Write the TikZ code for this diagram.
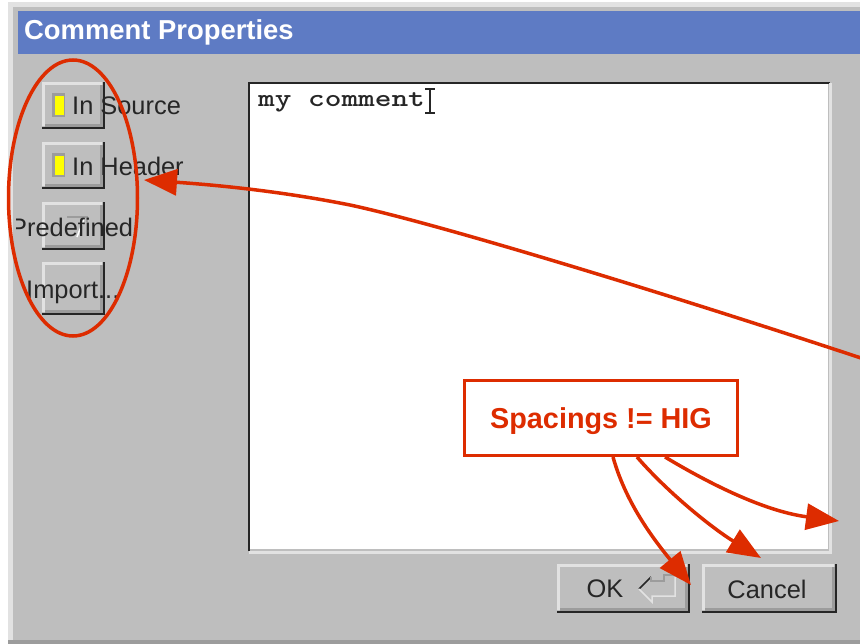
\documentclass[tikz,border=0pt]{standalone}
\usepackage{fontspec}
\setmainfont{Liberation Sans}
\usetikzlibrary{arrows.meta,calc,shapes.geometric}
\definecolor{wingray}{HTML}{BEBEBE}
\definecolor{titleblue}{HTML}{5E7BC4}
\definecolor{markred}{HTML}{DD2C00}
\definecolor{hilite}{HTML}{E2E2E2}
\definecolor{lowlite}{HTML}{9C9C9C}
\definecolor{inkdark}{HTML}{262626}
\definecolor{lampyellow}{HTML}{FFFF00}
\tikzset{
  x=1pt,y=-1pt,
  uilabel/.style={inner sep=0pt,text=inkdark,font=\fontsize{25.4}{25.4}\selectfont},
  redline/.style={draw=markred,line width=3.5pt},
  redarrow/.style={redline,-{Triangle[length=33pt,width=26pt,fill=markred]}},
}
\newcommand{\uibutton}[4]{%
  \fill[wingray] (#1,#2) rectangle (#3,#4);
  \fill[lowlite] (#1+3,#4-4) rectangle (#3-1,#4-1);
  \fill[lowlite] (#3-4,#2+3) rectangle (#3-1,#4-1);
  \fill[hilite] (#1,#2) rectangle (#3-2,#2+3);
  \fill[hilite] (#1,#2) rectangle (#1+3,#4-2);
  \draw[inkdark,line width=2pt] (#1,#4) -- (#3,#4) -- (#3,#2);
}
\newcommand{\uilamp}[2]{%
  \fill[lowlite] (#1,#2) rectangle (#1+13,#2+24);
  \fill[lampyellow] (#1+3,#2+3) rectangle (#1+12,#2+22);
}
\begin{document}
\begin{tikzpicture}
\useasboundingbox (0,0) rectangle (860,644);
\fill[white] (0,0) rectangle (860,644);
% window
\fill[hilite] (8,2) rectangle (860,644);
\fill[wingray] (13,7) rectangle (860,640);
\fill[lowlite] (8,640) rectangle (860,644);
\fill[titleblue] (18,11) rectangle (860,54);
\node[anchor=west,inner sep=0pt,text=white,font=\fontsize{27.4}{27.4}\selectfont\bfseries] (title) at (24,32.5) {Comment Properties};
% text area
\fill[white] (250,84) rectangle (828,549);
\draw[inkdark,line width=2.5pt] (249,551) -- (249,83) -- (830,83);
\draw[hilite,line width=3pt] (830,83) -- (830,552) -- (249,552);
\node[anchor=west,inner sep=0pt,text=inkdark,font=\ttfamily\bfseries\fontsize{25}{25}\selectfont] (comment) at (258,102) {\scalebox{1.27}[1]{my comment}};
\draw[inkdark,line width=1.6pt] (425,89) -- (435,89) (430,89) -- (430,113) (425,113) -- (435,113);
% left buttons
\uibutton{42}{82}{104}{128}
\uibutton{42}{142}{104}{188}
\uibutton{42}{202}{104}{249}
\uibutton{42}{262}{104}{314}
\uilamp{52}{93}
\uilamp{52}{153}
\draw[lowlite,line width=1.5pt] (67,217) -- (87,217) -- (87,222);
\draw[white,line width=1.5pt] (84,219) -- (77,237);
\node[uilabel,anchor=west] (insource) at (72,106) {In Source};
\node[uilabel,anchor=west] (inheader) at (72,166) {In Header};
\begin{scope}
\clip (16,205) rectangle (140,245);
\node[uilabel,anchor=west] (predef) at (10,227) {Predefined};
\end{scope}
\node[uilabel,anchor=west] (import) at (26,292) {Import...};
% bottom buttons
\uibutton{557}{564}{689}{612}
\uibutton{702}{564}{836}{612}
\node[uilabel,anchor=center] (ok) at (605,589) {OK};
\node[uilabel,anchor=center] (cancel) at (767,589) {Cancel};
\draw[inkdark,line width=1.5pt] (639,589) -- (651,577);
\draw[lowlite,line width=1.5pt] (651,577) -- (651,581) -- (664,581) -- (664,575) -- (675,575);
\draw[hilite,line width=1.5pt] (639,589) -- (652,602) -- (652,596) -- (675,596) -- (675,577);
% markup
\node[redline,ellipse,minimum width=129pt,minimum height=276pt,inner sep=0pt] (group) at (73,198) {};
\node[draw=markred,line width=3pt,fill=white,minimum width=273pt,minimum height=75pt,inner sep=0pt,text=markred,font=\fontsize{28.8}{28.8}\selectfont\bfseries] (spacing) at (601,418) {\raisebox{-10pt}[0pt][0pt]{Spacings != HIG}};
\coordinate (offright) at (861,358);
\coordinate (headertip) at (144,180);
\coordinate (oktip) at (691,585);
\coordinate (canceltip) at (761,558);
\coordinate (texttip) at (839,521);
\draw[redarrow] (offright) .. controls (640,285) and (430,222) .. (350,205) .. controls (290,193) and (230,186) .. (headertip);
\draw[redarrow] ([xshift=12pt]spacing.south) .. controls (625,500) and (650,535) .. (oktip);
\draw[redarrow] ([xshift=36pt]spacing.south) .. controls (670,495) and (715,530) .. (canceltip);
\draw[redarrow] ([xshift=64pt]spacing.south) .. controls (720,490) and (770,512) .. (texttip);
\end{tikzpicture}
\end{document}
